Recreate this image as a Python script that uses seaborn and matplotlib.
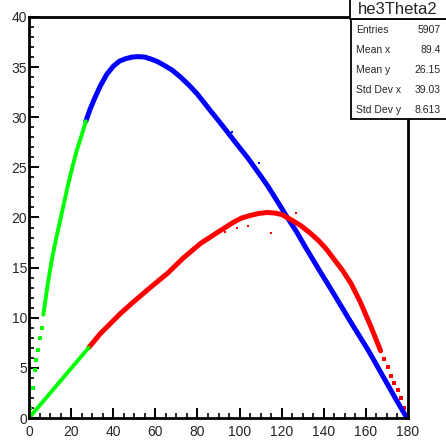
import matplotlib
matplotlib.use("Agg")
import matplotlib.pyplot as plt
from matplotlib.patches import Rectangle
from matplotlib.ticker import MultipleLocator
import seaborn as sns

# ---- data ----
blue_x = [27.0, 29.0, 31.0, 33.8, 37.0, 40.1, 43.0, 46.0, 49.0, 52.0, 55.0, 58.0, 61.0, 64.0, 68.0, 72.0,
          76.0, 80.0, 86.0, 92.5, 98.0, 103.7, 108.5, 113.2, 118.0, 122.7, 127.0, 131.4, 138.0, 145.0,
          153.0, 161.0, 168.0, 175.0, 179.5]
blue_y = [29.6, 30.8, 31.8, 33.1, 34.3, 35.1, 35.6, 35.85, 36.0, 36.05, 36.0, 35.8, 35.55, 35.2, 34.7, 34.0,
          33.2, 32.3, 30.7, 29.0, 27.5, 26.0, 24.6, 23.2, 21.6, 20.0, 18.6, 17.0, 14.7, 12.3,
          9.5, 6.8, 4.2, 1.6, 0.0]

red_x = [28.3, 33.8, 43.3, 49.7, 57.5, 65.6, 73.5, 81.4, 89.4, 97.3, 101.0, 105.0, 109.0, 113.0, 116.5,
         120.0, 124.3, 129.0, 133.8, 137.5, 141.0, 145.0, 149.0, 153.0, 157.5, 162.4, 167.0]
red_y = [7.0, 8.4, 10.4, 11.6, 13.0, 14.4, 16.0, 17.4, 18.5, 19.55, 19.95, 20.2, 20.4, 20.5, 20.45,
         20.3, 19.8, 19.2, 18.4, 17.7, 16.9, 15.8, 14.7, 13.4, 11.5, 9.1, 6.7]
red_tail_x = [168.5, 170.3, 172.0, 173.5, 175.1, 176.5, 178.0, 179.0]
red_tail_y = [5.9, 5.1, 4.2, 3.5, 2.8, 2.0, 1.0, 0.3]

green_hi_x = [6.8, 8.8, 10.8, 12.8, 14.8, 16.8, 18.7, 20.7, 22.7, 25.0, 27.0]
green_hi_y = [10.3, 13.2, 15.75, 17.8, 19.7, 21.6, 23.4, 25.1, 26.7, 28.2, 29.6]
green_sparse_x = [0.6, 2.0, 2.9, 3.5, 4.4, 5.2, 6.0]
green_sparse_y = [1.0, 3.0, 4.8, 5.8, 6.8, 8.0, 9.0]
green_lo_x = [0.0, 28.3]
green_lo_y = [0.0, 7.0]

red_out_x = [93.3, 98.9, 104.0, 114.8, 126.7]
red_out_y = [18.6, 19.0, 19.2, 18.5, 20.4]
blue_out_x = [109.2, 96.5]
blue_out_y = [25.4, 28.5]

stat_labels = ["Entries", "Mean x", "Mean y", "Std Dev x", "Std Dev y"]
stat_values = ["5907", "89.4", "26.15", "39.03", "8.613"]
hist_name = "he3Theta2"

# ---- style ----
sns.set_style("ticks")
plt.rcParams['font.family'] = ['Liberation Sans', 'DejaVu Sans']

W, H = 446, 440
fig = plt.figure(figsize=(W / 100, H / 100), dpi=100)
ax = fig.add_axes([29 / W, 1 - 418 / H, (408 - 29) / W, (418 - 17) / H])

BLUE, RED, GREEN = "#0000ff", "#ff0000", "#00ff00"

sns.lineplot(x=blue_x, y=blue_y, color=BLUE, linewidth=3.6, sort=False, estimator=None, ax=ax,
             solid_capstyle='round', solid_joinstyle='round')
sns.lineplot(x=red_x, y=red_y, color=RED, linewidth=3.6, sort=False, estimator=None, ax=ax,
             solid_capstyle='round', solid_joinstyle='round')
sns.scatterplot(x=red_tail_x, y=red_tail_y, color=RED, marker='s', s=9, linewidth=0, ax=ax)
sns.scatterplot(x=red_out_x, y=red_out_y, color=RED, marker='s', s=4, linewidth=0, ax=ax)
sns.scatterplot(x=blue_out_x, y=blue_out_y, color=BLUE, marker='s', s=4, linewidth=0, ax=ax)
sns.lineplot(x=green_hi_x, y=green_hi_y, color=GREEN, linewidth=2.8, sort=False, estimator=None, ax=ax,
             solid_capstyle='round', solid_joinstyle='round')
sns.scatterplot(x=green_sparse_x, y=green_sparse_y, color=GREEN, marker='s', s=7, linewidth=0, ax=ax)
sns.lineplot(x=green_lo_x, y=green_lo_y, color=GREEN, linewidth=2.8, sort=False, estimator=None, ax=ax,
             solid_capstyle='round')

ax.set_xlim(0, 180)
ax.set_ylim(0, 40)
ax.set_xlabel("")
ax.set_ylabel("")
ax.xaxis.set_major_locator(MultipleLocator(20))
ax.xaxis.set_minor_locator(MultipleLocator(5))
ax.yaxis.set_major_locator(MultipleLocator(5))
ax.yaxis.set_minor_locator(MultipleLocator(1))
ax.tick_params(which='major', direction='in', length=7, width=1.4, labelsize=10, color='black',
               top=False, right=False)
ax.tick_params(which='minor', direction='in', length=3.5, width=1.4, top=False, right=False)
ax.tick_params(axis='x', which='major', pad=5)
ax.tick_params(axis='y', which='major', pad=1.5)
for s in ax.spines.values():
    s.set_visible(True)
    s.set_linewidth(2)
    s.set_color('black')

# ---- title box and stats box ----
fig.add_artist(Rectangle((351 / W, 1 - 119 / H), 100 / W, 100 / H, transform=fig.transFigure,
                         facecolor='white', edgecolor='black', linewidth=1.3, zorder=5))
fig.add_artist(Rectangle((350 / W, 1 - 19 / H), 100 / W, 21 / H, transform=fig.transFigure,
                         facecolor='white', edgecolor='black', linewidth=1.3, zorder=5))
fig.text(398 / W, 1 - 10 / H, hist_name, ha='center', va='center', fontsize=12, zorder=6)
for i, (lab, val) in enumerate(zip(stat_labels, stat_values)):
    yy = 1 - (30 + 20 * i) / H
    fig.text(356 / W, yy, lab, ha='left', va='center', fontsize=7.5, zorder=6)
    fig.text(441 / W, yy, val, ha='right', va='center', fontsize=7.5, zorder=6)

fig.savefig("out.png", dpi=100)
